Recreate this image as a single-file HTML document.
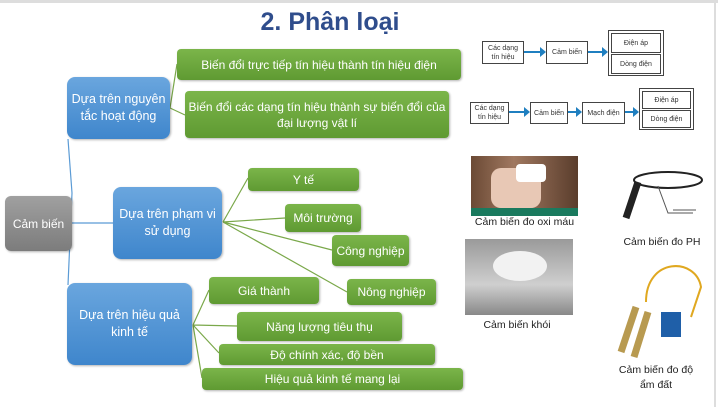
<!DOCTYPE html>
<html><head><meta charset="utf-8"><style>
body{margin:0;width:718px;height:407px;background:#fff;position:relative;overflow:hidden;font-family:"Liberation Sans",sans-serif}
.b{position:absolute;display:flex;align-items:center;justify-content:center;text-align:center;color:#fff;font-size:12px;border-radius:4px;line-height:16px;box-shadow:1px 1px 2px rgba(0,0,0,.3)}
.g{background:linear-gradient(#7bb54a,#5f9a32)}
.bl{background:linear-gradient(#6aa6de,#3f86cc);border-radius:8px;font-size:12.5px;line-height:17px}
.gr{background:linear-gradient(#a0a0a0,#7c7c7c);border-radius:6px}
.d{position:absolute;border:1px solid #444;background:#fff;font-size:7px;color:#333;display:flex;align-items:center;justify-content:center;text-align:center;line-height:9px}
.l{position:absolute;font-size:10.5px;color:#222;text-align:center}
</style></head><body>
<div style="position:absolute;left:0;top:0;width:718px;height:3px;background:#ddd"></div>
<div style="position:absolute;right:2px;top:0;width:2px;height:407px;background:#ddd"></div>
<div style="position:absolute;left:230px;top:8px;width:200px;text-align:center;font-size:25px;font-weight:bold;color:#2f4d8c">2. Phân loại</div>
<svg width="718" height="407" style="position:absolute;left:0;top:0">
<g stroke="#5b9bd5" stroke-width="1.2" fill="none"><path d="M68 139 L72 193 L68 285"/><path d="M72 223 L113 223"/></g>
<g stroke="#7aa84a" stroke-width="1.2" fill="none">
<path d="M170 108 L177 64 M170 108 L185 115"/>
<path d="M223 222 L248 178 M223 222 L285 218 M223 222 L332 250 M223 222 L347 292"/>
<path d="M193 325 L209 290 M193 325 L237 326 M193 325 L219 353 M193 325 L202 378"/>
</g>
<g fill="#1f7fc0">
<path d="M523 51h17v-4l6 5-6 5v-4h-17z"/><path d="M587 51h15v-4l6 5-6 5v-4h-15z"/>
<path d="M508 111h16v-4l6 5-6 5v-4h-16z"/><path d="M567 111h9v-4l6 5-6 5v-4h-9z"/><path d="M624 111h9v-4l6 5-6 5v-4h-9z"/>
</g>
</svg>
<div class="b g" style="left:177px;top:49px;width:284px;height:31px">Biến đổi trực tiếp tín hiệu thành tín hiệu điện</div>
<div class="b g" style="left:185px;top:91px;width:264px;height:47px">Biến đổi các dạng tín hiệu thành sự biến đổi của<br>đại lượng vật lí</div>
<div class="b bl" style="left:67px;top:77px;width:103px;height:62px">Dựa trên nguyên<br>tắc hoạt động</div>
<div class="b g" style="left:248px;top:168px;width:111px;height:23px">Y tế</div>
<div class="b g" style="left:285px;top:204px;width:76px;height:28px">Môi trường</div>
<div class="b g" style="left:332px;top:235px;width:77px;height:31px">Công nghiệp</div>
<div class="b g" style="left:347px;top:279px;width:89px;height:26px">Nông nghiệp</div>
<div class="b bl" style="left:113px;top:187px;width:109px;height:72px">Dựa trên phạm vi<br>sử dụng</div>
<div class="b gr" style="left:5px;top:196px;width:67px;height:55px">Cảm biến</div>
<div class="b bl" style="left:67px;top:283px;width:125px;height:82px">Dựa trên hiệu quả<br>kinh tế</div>
<div class="b g" style="left:209px;top:277px;width:110px;height:27px">Giá thành</div>
<div class="b g" style="left:237px;top:312px;width:165px;height:29px">Năng lượng tiêu thụ</div>
<div class="b g" style="left:219px;top:344px;width:216px;height:21px">Độ chính xác, độ bền</div>
<div class="b g" style="left:202px;top:368px;width:261px;height:22px">Hiệu quả kinh tế mang lại</div>

<div class="d" style="left:482px;top:41px;width:40px;height:21px">Các dạng<br>tín hiệu</div>
<div class="d" style="left:546px;top:41px;width:40px;height:21px">Cảm biến</div>
<div style="position:absolute;left:608px;top:30px;width:54px;height:44px;border:1px solid #444"></div>
<div class="d" style="left:611px;top:33px;width:48px;height:18px">Điện áp</div>
<div class="d" style="left:611px;top:54px;width:48px;height:18px">Dòng điện</div>
<div class="d" style="left:470px;top:102px;width:37px;height:20px">Các dạng<br>tín hiệu</div>
<div class="d" style="left:530px;top:102px;width:36px;height:20px">Cảm biến</div>
<div class="d" style="left:582px;top:102px;width:41px;height:20px">Mạch điện</div>
<div style="position:absolute;left:639px;top:88px;width:53px;height:40px;border:1px solid #444"></div>
<div class="d" style="left:642px;top:91px;width:47px;height:16px">Điện áp</div>
<div class="d" style="left:642px;top:110px;width:47px;height:16px">Dòng điện</div>

<div style="position:absolute;left:471px;top:156px;width:107px;height:60px;background:linear-gradient(90deg,#6b4a35,#a07860 40%,#5a3d2c);"><div style="position:absolute;left:20px;top:12px;width:50px;height:40px;background:#e8c8b5;border-radius:10px"></div><div style="position:absolute;left:45px;top:8px;width:30px;height:18px;background:#fff;border-radius:4px"></div><div style="position:absolute;left:0;bottom:0;width:107px;height:8px;background:#1a7a5e"></div></div>
<div class="l" style="left:462px;top:216px;width:125px">Cảm biến đo oxi máu</div>
<div style="position:absolute;left:618px;top:168px;width:87px;height:60px"><svg width="87" height="60"><ellipse cx="50" cy="12" rx="34" ry="8" fill="none" stroke="#222" stroke-width="2"/><path d="M20 14 L8 50" stroke="#222" stroke-width="7"/><path d="M40 18 L50 45 L75 45 M55 42 L78 42" stroke="#555" fill="none"/></svg></div>
<div class="l" style="left:612px;top:236px;width:100px">Cảm biến đo PH</div>
<div style="position:absolute;left:465px;top:239px;width:108px;height:76px;background:linear-gradient(#9a9a9a,#cfcfcf 60%,#888);"><div style="position:absolute;left:28px;top:12px;width:54px;height:30px;background:#f2f2f2;border-radius:50%"></div></div>
<div class="l" style="left:462px;top:319px;width:110px">Cảm biến khói</div>
<div style="position:absolute;left:606px;top:257px;width:100px;height:103px"><svg width="100" height="103"><path d="M40 45 C40 0,90 0,95 30 L85 60" stroke="#e0a820" stroke-width="2" fill="none"/><path d="M30 50 L15 95 M42 55 L28 100" stroke="#b89a50" stroke-width="7"/><rect x="55" y="55" width="20" height="25" fill="#1f5fa8"/></svg></div>
<div class="l" style="left:606px;top:363px;width:100px;line-height:15px">Cảm biến đo độ<br>ẩm đất</div>
</body></html>
